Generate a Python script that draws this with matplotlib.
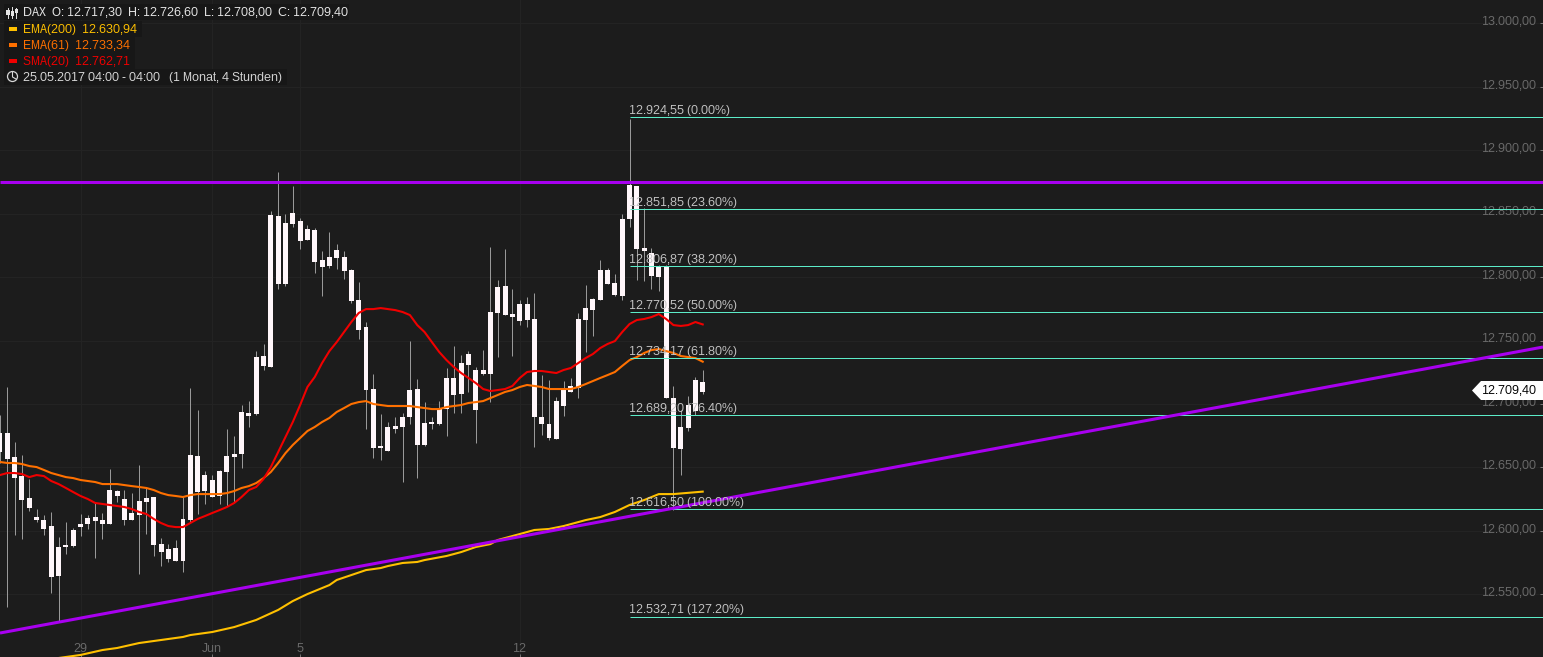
import matplotlib
matplotlib.use("Agg")
import numpy as np
import matplotlib.pyplot as plt
from matplotlib.patches import Polygon, Rectangle, Ellipse
from matplotlib.ticker import FixedLocator, FuncFormatter
from matplotlib.transforms import ScaledTranslation

plt.rcParams['font.family'] = ['Liberation Sans', 'DejaVu Sans']
plt.rcParams['text.hinting'] = 'native'
plt.rcParams['text.hinting_factor'] = 1

# candles (no colour difference between up and down in the original)
high = [12691.4,12713.4,12670.0,12659.8,12641.0,12617.1,12612.4,12614.8,12595.2,12607.0,
        12602.2,12613.2,12612.4,12622.9,12614.0,12648.8,12632.3,12632.3,12630.0,12651.9,
        12633.9,12626.9,12594.4,12589.7,12592.8,12626.9,12712.6,12695.4,12647.2,12644.1,
        12648.0,12680.2,12674.7,12699.3,12702.4,12741.9,12747.4,12852.3,12883.2,12849.9,
        12871.9,12846.8,12841.3,12838.9,12820.6,12835.8,12826.1,12820.6,12806.5,12796.3,
        12764.7,12723.6,12692.2,12686.0,12689.9,12693.0,12749.8,12719.7,12701.6,12689.9,
        12702.4,12728.3,12745.8,12738.8,12741.9,12729.1,12742.7,12823.8,12797.9,12822.2,
        12790.8,12782.2,12784.6,12787.7,12722.8,12718.9,12705.6,12718.1,12720.4,12771.7,
        12794.0,12783.8,12813.6,12807.3,12802.6,12849.9,12924.55,12871.9,12854.6,12823.0,
        12809.6,12809.6,12714.2,12695.4,12706.3,12721.2,12726.6]
low = [12653.5,12540.1,12596.8,12593.6,12615.6,12607.0,12596.8,12551.1,12529.1,12581.9,
       12587.4,12596.0,12601.5,12578.7,12593.6,12605.4,12622.9,12604.6,12608.5,12566.2,
       12597.5,12580.3,12572.5,12575.6,12576.4,12567.8,12607.0,12613.2,12621.4,12626.9,
       12621.4,12619.5,12622.9,12649.6,12682.0,12691.4,12726.7,12729.1,12790.8,12793.2,
       12839.7,12822.2,12829.2,12803.4,12785.3,12807.3,12806.5,12798.7,12779.5,12751.3,
       12680.2,12657.4,12655.9,12662.9,12677.0,12638.6,12684.4,12641.7,12666.8,12680.2,
       12683.6,12674.7,12693.0,12693.0,12709.5,12669.2,12722.8,12701.6,12737.2,12770.1,
       12738.0,12762.3,12760.7,12666.1,12675.5,12671.5,12672.3,12690.7,12709.5,12704.8,
       12741.1,12753.7,12782.2,12794.7,12785.3,12782.2,12839.7,12797.9,12797.1,12790.8,
       12789.3,12704.8,12616.5,12644.1,12678.6,12691.4,12708.0]
body_top = [12677.0,12677.0,12658.2,12643.3,12626.1,12610.9,12608.5,12603.8,12587.4,12588.9,
            12600.7,12605.4,12610.1,12610.9,12608.5,12632.3,12631.6,12625.3,12614.0,12623.7,
            12626.1,12626.9,12589.7,12585.8,12586.6,12609.3,12659.8,12659.0,12644.1,12640.2,
            12647.2,12659.0,12660.6,12693.8,12693.0,12737.2,12738.0,12849.1,12848.4,12842.9,
            12850.7,12844.4,12838.2,12837.4,12813.6,12815.9,12821.4,12815.9,12805.7,12782.2,
            12760.7,12711.8,12666.8,12682.0,12682.8,12689.9,12711.0,12711.8,12685.2,12686.0,
            12696.1,12720.4,12720.4,12732.5,12739.6,12726.7,12726.7,12772.5,12792.4,12793.2,
            12770.9,12778.8,12778.8,12767.0,12689.9,12684.4,12702.4,12711.0,12714.2,12767.0,
            12775.6,12783.0,12805.7,12805.7,12795.5,12846.0,12872.7,12871.9,12823.0,12819.0,
            12808.1,12808.1,12704.8,12682.0,12699.3,12718.9,12717.3]
body_bot = [12662.1,12656.6,12641.7,12624.5,12617.9,12608.5,12601.5,12563.8,12564.6,12587.4,
            12588.1,12603.0,12605.4,12607.7,12605.4,12605.4,12627.6,12608.5,12608.5,12612.4,
            12622.9,12588.9,12583.4,12577.9,12576.4,12576.4,12608.5,12630.8,12631.6,12626.9,
            12627.6,12646.5,12658.2,12660.6,12690.7,12692.2,12730.2,12729.1,12794.7,12794.7,
            12842.1,12828.5,12829.2,12812.0,12808.1,12808.9,12815.1,12804.9,12781.4,12758.4,
            12711.0,12665.3,12665.3,12662.9,12680.2,12682.0,12689.9,12667.6,12667.6,12684.4,
            12684.4,12696.1,12707.1,12707.9,12730.6,12695.4,12723.6,12723.6,12771.7,12770.1,
            12768.6,12765.4,12766.2,12689.9,12684.4,12673.1,12672.3,12698.5,12709.5,12712.6,
            12766.2,12774.1,12782.2,12794.7,12786.1,12785.3,12846.0,12822.2,12820.6,12801.0,
            12800.2,12704.8,12665.3,12664.5,12681.2,12694.6,12709.4]

sma20 = [12644.0,12645.6,12645.6,12644.8,12642.4,12644.0,12643.2,12639.3,12636.9,12633.8,
         12630.6,12627.5,12625.1,12622.0,12621.2,12620.4,12619.6,12618.8,12617.2,12614.9,
         12613.3,12609.4,12606.2,12603.8,12603.0,12603.0,12606.2,12609.4,12611.7,12614.1,
         12616.4,12618.8,12622.0,12626.7,12632.2,12634.6,12640.9,12650.3,12662.1,12674.0,
         12685.8,12699.2,12713.4,12721.3,12732.3,12741.7,12748.8,12756.7,12764.6,12771.7,
         12774.8,12774.8,12775.6,12774.8,12774.0,12772.5,12770.1,12762.2,12756.7,12748.8,
         12741.0,12734.6,12729.1,12724.4,12720.5,12716.5,12711.8,12710.2,12711.0,12711.8,
         12714.2,12720.5,12725.2,12726.0,12726.0,12725.2,12724.4,12726.8,12728.4,12732.3,
         12736.2,12739.4,12744.1,12747.3,12749.6,12756.7,12763.0,12766.2,12767.0,12768.5,
         12770.9,12767.0,12762.2,12761.5,12762.2,12764.6,12762.71]
ema61 = [12654.3,12653.5,12653.5,12652.7,12651.1,12650.3,12648.0,12645.6,12644.0,12642.4,
         12641.6,12640.1,12639.3,12638.5,12636.9,12636.9,12636.9,12636.1,12635.3,12634.6,
         12633.8,12632.2,12629.8,12628.2,12627.5,12626.7,12628.2,12629.0,12629.0,12629.0,
         12629.0,12629.8,12631.4,12633.8,12635.3,12637.7,12641.6,12646.4,12653.5,12661.3,
         12667.7,12673.2,12678.7,12681.9,12685.8,12689.0,12693.7,12696.8,12700.0,12701.5,
         12702.3,12700.0,12699.2,12698.4,12698.4,12698.4,12698.4,12697.6,12696.8,12696.0,
         12696.0,12697.6,12698.4,12699.2,12700.8,12701.5,12702.3,12704.7,12707.1,12709.5,
         12711.0,12713.4,12715.0,12714.2,12713.4,12711.8,12711.8,12711.8,12711.8,12713.4,
         12715.7,12718.1,12720.5,12722.8,12725.2,12730.0,12734.6,12737.0,12740.2,12742.5,
         12743.3,12741.7,12740.2,12737.8,12737.0,12736.2,12733.34]
ema200_idx = [8,11,14,16,19,22,25,26,29,32,35,38,40,42,45,46,48,50,52,53,55,57,58,61,63,65,67,68,71,73,75,77,80,82,84,86,88,90,92,96]
ema200 = [12499.8,12502.2,12506.1,12507.7,12511.6,12514.0,12516.4,12517.9,12520.3,12524.2,
          12529.8,12537.7,12544.7,12550.2,12557.3,12561.3,12565.2,12569.1,12570.7,12572.3,
          12574.7,12575.5,12577.0,12580.2,12583.3,12587.3,12589.6,12592.8,12597.5,12600.7,
          12601.5,12603.8,12608.5,12610.9,12614.9,12620.4,12624.3,12629.0,12629.0,12630.94]

fib_values = [12924.55,12851.85,12806.87,12770.52,12734.17,12689.20,12616.50,12532.71]
fib_pcts = [0.0,23.6,38.2,50.0,61.8,76.4,100.0,127.2]
# the lines sit a little off their labels in the original
fib_lines = [12925.9,12853.4,12808.5,12772.2,12736.0,12691.1,12617.0,12532.1]

resistance = [12875.3,12875.3]
support = [12519.5,12744.9]

y_ticks = [13000,12950,12900,12850,12800,12750,12700,12650,12600,12550]
x_ticks = [11,29,41,71]
x_labels = ['29','Jun','5','12']
last_price = 12709.40

BG = '#1c1c1c'
GRID = '#242424'
WICK = '#999999'
BODY = '#fff6fa'
FIB = '#5cecc8'
PURPLE = '#a800f0'
W, H = 1543, 657
FS = 8.64  # 12 px


def de(v):
    # german number format, 12.709,40
    s = ('%.2f' % v).replace('.', ',')
    return s[:-6] + '.' + s[-6:]


def px(x, y):
    return x / W, 1 - y / H


fig = plt.figure(figsize=(15.43, 6.57), dpi=100, facecolor=BG)
ax = fig.add_axes([0, 0, 1, 1], facecolor=BG)
idx = np.arange(len(high))
ax.set_xlim(0, W / 7.32)
ax.set_ylim(12500.6, 13018.4)
for s in ax.spines.values():
    s.set_visible(False)

ax.yaxis.tick_right()
ax.yaxis.set_major_locator(FixedLocator(y_ticks))
ax.yaxis.set_major_formatter(FuncFormatter(lambda v, p: de(v)))
ax.tick_params(axis='y', direction='in', length=2.5, width=0.7, color='#777777', pad=-4.3,
               labelsize=FS, labelcolor='#6b6b6b')
up = ScaledTranslation(0, 2 / 72, fig.dpi_scale_trans)
for t in ax.get_yticklabels():
    t.set_ha('right')
    t.set_transform(t.get_transform() + up)
ax.xaxis.set_major_locator(FixedLocator(x_ticks))
ax.set_xticklabels(x_labels)
ax.tick_params(axis='x', direction='in', length=2.5, width=0.7, color='#777777', pad=-1.8,
               labelsize=FS, labelcolor='#6b6b6b')
for t in ax.get_xticklabels():
    t.set_va('bottom')
ax.grid(True, color=GRID, lw=0.7)
ax.set_axisbelow(True)

ax.vlines(idx, low, high, color=WICK, lw=0.72, zorder=2)
ax.bar(idx, np.array(body_top) - np.array(body_bot), bottom=body_bot, width=0.68,
       color=BODY, lw=0, zorder=3)

ax.plot(ema200_idx, ema200, color='#ffc000', lw=1.5, zorder=4)
ax.plot(idx, ema61, color='#ff7000', lw=1.5, zorder=4)
ax.plot(idx, sma20, color='#f00000', lw=1.5, zorder=4)

x_end = W / 7.32
for lv, val, pc in zip(fib_lines, fib_values, fib_pcts):
    ax.hlines(lv, 86, x_end, color=FIB, lw=0.72, zorder=5)
    ax.annotate('%s (%.2f%%)' % (de(val), pc), (86, lv), xytext=(-0.7, 2.6), textcoords='offset points',
                ha='left', va='baseline', color='#c4c4c4', fontsize=FS, zorder=7)

ax.plot([0, x_end], resistance, color=PURPLE, lw=2.2, zorder=6, solid_capstyle='butt')
ax.plot([0, x_end], support, color=PURPLE, lw=2.2, zorder=6, solid_capstyle='butt')

# last price tag
yc = 1 - 390.5 / H
tag = Polygon([px(1472, 390.5), px(1481, 381), px(1543, 381), px(1543, 400), px(1481, 400)],
              closed=True, transform=fig.transFigure, facecolor='white', edgecolor='none', zorder=8)
ax.add_patch(tag)
ax.text(1537 / W, yc, de(last_price), transform=fig.transFigure, ha='right', va='center',
        color='black', fontsize=FS, zorder=9)

# info box, top left
info = [('DAX  O: 12.717,30  H: 12.726,60  L: 12.708,00  C: 12.709,40', '#e6e6e6', 12, 349),
        ('EMA(200)  12.630,94', '#ffc000', 29, 142),
        ('EMA(61)  12.733,34', '#ff7000', 45, 135),
        ('SMA(20)  12.762,71', '#f00000', 61, 135),
        ('25.05.2017 04:00 - 04:00   (1 Monat, 4 Stunden)', '#d8d8d8', 77, 287)]
for txt, col, y, right in info:
    ax.add_patch(Rectangle(px(4, y + 8), (right - 4) / W, 16 / H, transform=fig.transFigure,
                           facecolor='#171717', edgecolor='none', zorder=8))
    ax.text(23 / W, 1 - (y + 0.5) / H, txt, transform=fig.transFigure, color=col, fontsize=FS,
            va='center', ha='left', zorder=9)
for col, y in [('#ffc000', 29), ('#ff7000', 45), ('#f00000', 61)]:
    ax.add_patch(Rectangle(px(9, y + 1.5), 8 / W, 3 / H, transform=fig.transFigure,
                           facecolor=col, edgecolor='none', zorder=9))
# candlestick icon
for x0, t, b, bt, bb in [(8, 8, 18, 10, 15), (12, 7, 18, 11, 16), (16, 8, 18, 9, 13)]:
    ax.add_line(plt.Line2D([x0 / W, x0 / W], [1 - t / H, 1 - b / H], transform=fig.transFigure,
                           color='#e6e6e6', lw=0.7, zorder=9))
    ax.add_patch(Rectangle(px(x0 - 1.5, bb), 3 / W, (bb - bt) / H, transform=fig.transFigure,
                           facecolor='#e6e6e6', edgecolor='none', zorder=9))
# clock icon
clock = plt.Line2D(*zip(px(12.5, 72), px(12.5, 77), px(16, 79)), transform=fig.transFigure,
                   color='#d8d8d8', lw=0.8, zorder=9)
ax.add_line(clock)
ax.add_patch(Ellipse(px(12.5, 76.5), 10 / W, 10 / H, transform=fig.transFigure,
                     facecolor='none', edgecolor='#d8d8d8', lw=0.9, zorder=9))

fig.savefig('out.png', dpi=100, facecolor=BG)
